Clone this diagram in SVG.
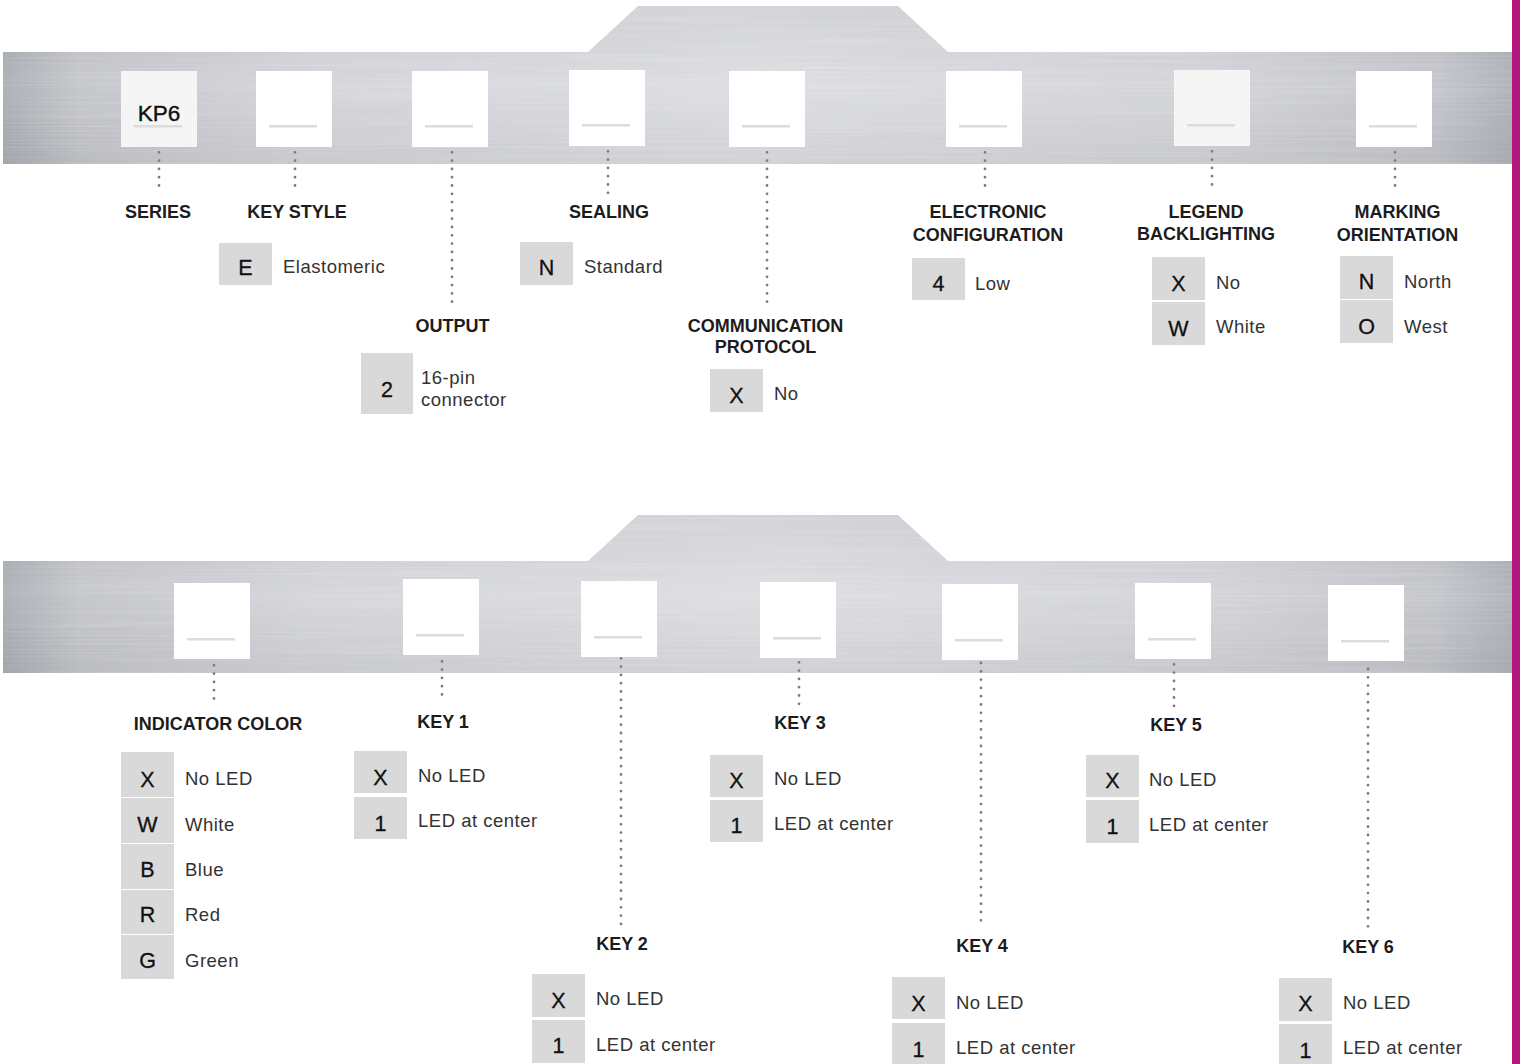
<svg xmlns="http://www.w3.org/2000/svg" width="1520" height="1064" viewBox="0 0 1520 1064">
<defs>
<style>
.key{fill:#ffffff}
.keyg{fill:#f5f5f5}
.ul{fill:#dcdcdc}
.lbl{font-family:"Liberation Sans",Arial,sans-serif;font-size:18px;font-weight:bold;fill:#1c1c1c;text-anchor:middle}
.ob{fill:#d9d9d9}
.ol{font-family:"Liberation Sans",Arial,sans-serif;font-size:21.5px;fill:#111;stroke:#111;stroke-width:0.3;text-anchor:middle}
.ot{font-family:"Liberation Sans",Arial,sans-serif;font-size:18.5px;fill:#333;letter-spacing:0.5px}
.kp{font-family:"Liberation Sans",Arial,sans-serif;font-size:22.5px;fill:#111;stroke:#111;stroke-width:0.4;text-anchor:middle}
.dot{fill:none;stroke:#7c7c7c;stroke-width:2.8;stroke-linecap:round;stroke-dasharray:0 8.3}
</style>
<linearGradient id="metal" gradientUnits="userSpaceOnUse" x1="3" y1="0" x2="1512" y2="0">
<stop offset="0" stop-color="#aaadb4"/>
<stop offset="0.05" stop-color="#c3c5ca"/>
<stop offset="0.2" stop-color="#d3d4d9"/>
<stop offset="0.5" stop-color="#dcdde1"/>
<stop offset="0.8" stop-color="#d2d3d8"/>
<stop offset="0.95" stop-color="#c2c4ca"/>
<stop offset="1" stop-color="#adb0b7"/>
</linearGradient>
<linearGradient id="shade" x1="0" y1="0" x2="0" y2="1">
<stop offset="0" stop-color="#000" stop-opacity="0.04"/>
<stop offset="0.5" stop-color="#fff" stop-opacity="0.05"/>
<stop offset="1" stop-color="#000" stop-opacity="0.05"/>
</linearGradient>
<filter id="brush" x="0" y="0" width="100%" height="100%">
<feTurbulence type="fractalNoise" baseFrequency="0.004 0.45" numOctaves="2" seed="4" result="n"/>
<feColorMatrix in="n" type="matrix" values="0 0 0 0 1  0 0 0 0 1  0 0 0 0 1  0.9 0 0 0 -0.35" result="s"/>
<feComposite in="s" in2="SourceAlpha" operator="in"/>
</filter>
<path id="bandshape" d="M3,52 H588 L638,6 H898 L948,52 H1512 V164 H3 Z"/>
</defs>

<rect width="1520" height="1064" fill="#ffffff"/>

<g id="bands">
<use href="#bandshape" fill="url(#metal)"/>
<use href="#bandshape" fill="url(#shade)"/>
<use href="#bandshape" fill="#000" filter="url(#brush)" opacity="0.35"/>
<g transform="translate(0,509)">
<use href="#bandshape" fill="url(#metal)"/>
<use href="#bandshape" fill="url(#shade)"/>
<use href="#bandshape" fill="#000" filter="url(#brush)" opacity="0.35"/>
</g>
</g>

<rect id="accent-bar" x="1512" y="0" width="8" height="1064" fill="#b3167c"/>

<g id="connectors">
<path class="dot" d="M159,144 V193"/>
<path class="dot" d="M295,144 V193"/>
<path class="dot" d="M452,144 V302"/>
<path class="dot" d="M608,143 V193"/>
<path class="dot" d="M767,144 V303"/>
<path class="dot" d="M985,144 V193"/>
<path class="dot" d="M1212,143 V192"/>
<path class="dot" d="M1395,144 V193"/>
<path class="dot" d="M214,657 V706"/>
<path class="dot" d="M442,653 V702"/>
<path class="dot" d="M621,650 V925"/>
<path class="dot" d="M799,654 V704"/>
<path class="dot" d="M981,663 V925"/>
<path class="dot" d="M1174,656 V706"/>
<path class="dot" d="M1368,669 V929"/>
</g>

<g id="node-series">
<rect class="keyg" x="121" y="71" width="76" height="76"/>
<rect class="ul" x="134" y="125" width="48" height="2.5"/>
<text class="kp" x="159" y="120.5">KP6</text>
<text class="lbl" x="158" y="218">SERIES</text>
</g>

<g id="node-key-style">
<rect class="key" x="256" y="71" width="76" height="76"/>
<rect class="ul" x="269" y="125" width="48" height="2.5"/>
<text class="lbl" x="297" y="218">KEY STYLE</text>
<rect class="ob" x="219" y="243" width="53" height="42"/>
<text class="ol" x="245.5" y="275">E</text>
<text class="ot" x="283" y="273">Elastomeric</text>
</g>

<g id="node-output">
<rect class="key" x="412" y="71" width="76" height="76"/>
<rect class="ul" x="425" y="125" width="48" height="2.5"/>
<text class="lbl" x="452.5" y="332">OUTPUT</text>
<rect class="ob" x="361" y="353" width="52" height="61"/>
<text class="ol" x="387" y="397">2</text>
<text class="ot" x="421" y="384">16-pin</text>
<text class="ot" x="421" y="406">connector</text>
</g>

<g id="node-sealing">
<rect class="key" x="569" y="70" width="76" height="76"/>
<rect class="ul" x="582" y="124" width="48" height="2.5"/>
<text class="lbl" x="609" y="218">SEALING</text>
<rect class="ob" x="520" y="242" width="53" height="43"/>
<text class="ol" x="546.5" y="275">N</text>
<text class="ot" x="584" y="273">Standard</text>
</g>

<g id="node-communication-protocol">
<rect class="key" x="729" y="71" width="76" height="76"/>
<rect class="ul" x="742" y="125" width="48" height="2.5"/>
<text class="lbl" x="765.5" y="332">COMMUNICATION</text>
<text class="lbl" x="765.5" y="353">PROTOCOL</text>
<rect class="ob" x="710" y="369" width="53" height="43"/>
<text class="ol" x="736.5" y="403">X</text>
<text class="ot" x="774" y="400">No</text>
</g>

<g id="node-electronic-configuration">
<rect class="key" x="946" y="71" width="76" height="76"/>
<rect class="ul" x="959" y="125" width="48" height="2.5"/>
<text class="lbl" x="988" y="218">ELECTRONIC</text>
<text class="lbl" x="988" y="241">CONFIGURATION</text>
<rect class="ob" x="912" y="258" width="53" height="42"/>
<text class="ol" x="938.5" y="291">4</text>
<text class="ot" x="975" y="290">Low</text>
</g>

<g id="node-legend-backlighting">
<rect class="keyg" x="1174" y="70" width="76" height="76"/>
<rect class="ul" x="1187" y="124" width="48" height="2.5"/>
<text class="lbl" x="1206" y="218">LEGEND</text>
<text class="lbl" x="1206" y="240">BACKLIGHTING</text>
<rect class="ob" x="1152" y="257" width="53" height="43"/>
<rect class="ob" x="1152" y="302" width="53" height="43"/>
<text class="ol" x="1178.5" y="291">X</text>
<text class="ol" x="1178.5" y="336">W</text>
<text class="ot" x="1216" y="289">No</text>
<text class="ot" x="1216" y="333">White</text>
</g>

<g id="node-marking-orientation">
<rect class="key" x="1356" y="71" width="76" height="76"/>
<rect class="ul" x="1369" y="125" width="48" height="2.5"/>
<text class="lbl" x="1397.5" y="218">MARKING</text>
<text class="lbl" x="1397.5" y="241">ORIENTATION</text>
<rect class="ob" x="1340" y="256" width="53" height="43"/>
<rect class="ob" x="1340" y="300" width="53" height="43"/>
<text class="ol" x="1366.5" y="289">N</text>
<text class="ol" x="1366.5" y="334">O</text>
<text class="ot" x="1404" y="288">North</text>
<text class="ot" x="1404" y="333">West</text>
</g>

<g id="node-indicator-color">
<rect class="key" x="174" y="583" width="76" height="76"/>
<rect class="ul" x="187" y="638" width="48" height="2.5"/>
<text class="lbl" x="218" y="730">INDICATOR COLOR</text>
<rect class="ob" x="121" y="752" width="53" height="45"/>
<rect class="ob" x="121" y="798" width="53" height="45"/>
<rect class="ob" x="121" y="844" width="53" height="45"/>
<rect class="ob" x="121" y="890" width="53" height="44"/>
<rect class="ob" x="121" y="935" width="53" height="44"/>
<text class="ol" x="147.5" y="787">X</text>
<text class="ol" x="147.5" y="832">W</text>
<text class="ol" x="147.5" y="877">B</text>
<text class="ol" x="147.5" y="922">R</text>
<text class="ol" x="147.5" y="968">G</text>
<text class="ot" x="185" y="785">No LED</text>
<text class="ot" x="185" y="831">White</text>
<text class="ot" x="185" y="876">Blue</text>
<text class="ot" x="185" y="921">Red</text>
<text class="ot" x="185" y="967">Green</text>
</g>

<g id="node-key-1">
<rect class="key" x="403" y="579" width="76" height="76"/>
<rect class="ul" x="416" y="634" width="48" height="2.5"/>
<text class="lbl" x="443" y="728">KEY 1</text>
<rect class="ob" x="354" y="751" width="53" height="42"/>
<rect class="ob" x="354" y="797" width="53" height="42"/>
<text class="ol" x="380.5" y="785">X</text>
<text class="ol" x="380.5" y="831">1</text>
<text class="ot" x="418" y="782">No LED</text>
<text class="ot" x="418" y="827">LED at center</text>
</g>

<g id="node-key-2">
<rect class="key" x="581" y="581" width="76" height="76"/>
<rect class="ul" x="594" y="636" width="48" height="2.5"/>
<text class="lbl" x="622" y="950">KEY 2</text>
<rect class="ob" x="532" y="974" width="53" height="43"/>
<rect class="ob" x="532" y="1020" width="53" height="43"/>
<text class="ol" x="558.5" y="1008">X</text>
<text class="ol" x="558.5" y="1053">1</text>
<text class="ot" x="596" y="1005">No LED</text>
<text class="ot" x="596" y="1051">LED at center</text>
</g>

<g id="node-key-3">
<rect class="key" x="760" y="582" width="76" height="76"/>
<rect class="ul" x="773" y="637" width="48" height="2.5"/>
<text class="lbl" x="800" y="729">KEY 3</text>
<rect class="ob" x="710" y="755" width="53" height="42"/>
<rect class="ob" x="710" y="800" width="53" height="42"/>
<text class="ol" x="736.5" y="788">X</text>
<text class="ol" x="736.5" y="833">1</text>
<text class="ot" x="774" y="785">No LED</text>
<text class="ot" x="774" y="830">LED at center</text>
</g>

<g id="node-key-4">
<rect class="key" x="942" y="584" width="76" height="76"/>
<rect class="ul" x="955" y="639" width="48" height="2.5"/>
<text class="lbl" x="982" y="952">KEY 4</text>
<rect class="ob" x="892" y="977" width="53" height="42"/>
<rect class="ob" x="892" y="1023" width="53" height="42"/>
<text class="ol" x="918.5" y="1011">X</text>
<text class="ol" x="918.5" y="1057">1</text>
<text class="ot" x="956" y="1009">No LED</text>
<text class="ot" x="956" y="1054">LED at center</text>
</g>

<g id="node-key-5">
<rect class="key" x="1135" y="583" width="76" height="76"/>
<rect class="ul" x="1148" y="638" width="48" height="2.5"/>
<text class="lbl" x="1176" y="731">KEY 5</text>
<rect class="ob" x="1086" y="755" width="53" height="42"/>
<rect class="ob" x="1086" y="800" width="53" height="43"/>
<text class="ol" x="1112.5" y="788">X</text>
<text class="ol" x="1112.5" y="834">1</text>
<text class="ot" x="1149" y="786">No LED</text>
<text class="ot" x="1149" y="831">LED at center</text>
</g>

<g id="node-key-6">
<rect class="key" x="1328" y="585" width="76" height="76"/>
<rect class="ul" x="1341" y="640" width="48" height="2.5"/>
<text class="lbl" x="1368" y="953">KEY 6</text>
<rect class="ob" x="1279" y="978" width="53" height="43"/>
<rect class="ob" x="1279" y="1024" width="53" height="42"/>
<text class="ol" x="1305.5" y="1011">X</text>
<text class="ol" x="1305.5" y="1058">1</text>
<text class="ot" x="1343" y="1009">No LED</text>
<text class="ot" x="1343" y="1054">LED at center</text>
</g>
</svg>
